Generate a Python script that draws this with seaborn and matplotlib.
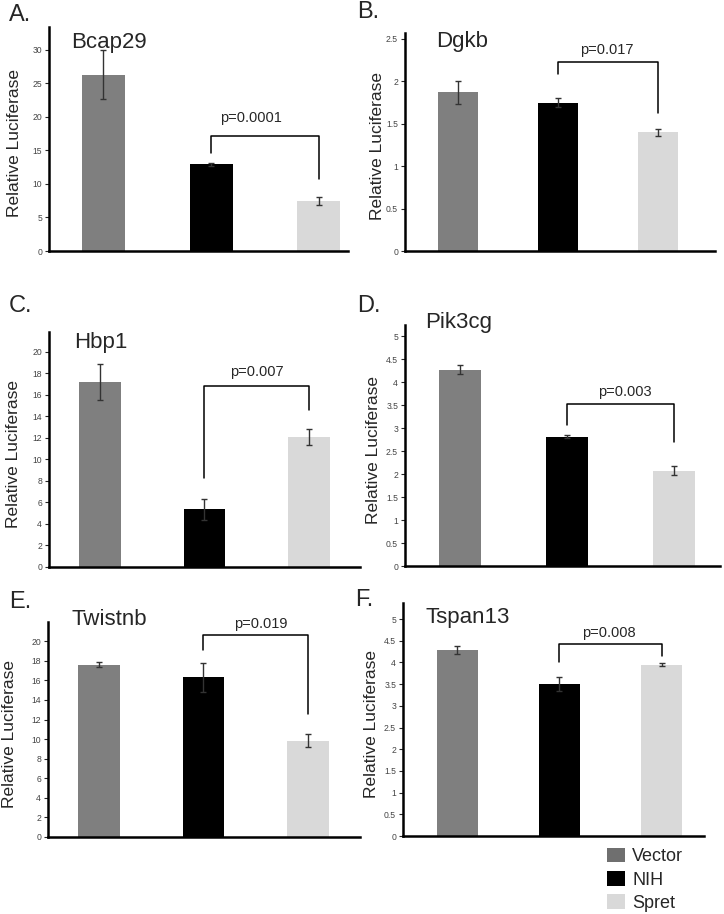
import matplotlib
matplotlib.use("Agg")
from matplotlib import pyplot as plt
from matplotlib.patches import Patch
import numpy as np
import pandas as pd
import seaborn as sns

W, H = 724, 914

groups = ['Vector', 'NIH', 'Spret']
colors = ['#7f7f7f', '#000000', '#d9d9d9']
genes = ['Bcap29', 'Dgkb', 'Hbp1', 'Pik3cg', 'Twistnb', 'Tspan13']
letters = ['A.', 'B.', 'C.', 'D.', 'E.', 'F.']

bcap29_mean = [26.3, 12.9, 7.5]
bcap29_err = [3.7, 0.2, 0.6]
dgkb_mean = [1.87, 1.75, 1.40]
dgkb_err = [0.14, 0.05, 0.04]
hbp1_mean = [17.2, 5.35, 12.1]
hbp1_err = [1.7, 0.95, 0.75]
pik3cg_mean = [4.28, 2.82, 2.08]
pik3cg_err = [0.09, 0.03, 0.09]
twistnb_mean = [17.6, 16.3, 9.85]
twistnb_err = [0.25, 1.5, 0.7]
tspan13_mean = [4.28, 3.5, 3.95]
tspan13_err = [0.09, 0.16, 0.03]

p_values = ['p=0.0001', 'p=0.017', 'p=0.007', 'p=0.003', 'p=0.019', 'p=0.008']
# bracket: left foot, top, right foot (data units)
brackets = [(14.6, 17.2, 10.8), (2.09, 2.23, 1.63), (8.26, 16.8, 14.6),
            (3.07, 3.52, 2.71), (19.07, 20.6, 12.56), (4.02, 4.42, 4.14)]
p_text_y = [19.8, 2.37, 18.1, 3.78, 21.8, 4.69]
p_text_x = [1.37, 1.49, 1.50, 1.54, 1.55, 1.48]

y_top = [33.4, 2.57, 21.85, 5.25, 21.96, 5.37]
y_step = [5, 0.5, 2, 0.5, 2, 0.5]
y_max_tick = [30, 2.5, 20, 5, 20, 5]

means = [bcap29_mean, dgkb_mean, hbp1_mean, pik3cg_mean, twistnb_mean, tspan13_mean]
errs = [bcap29_err, dgkb_err, hbp1_err, pik3cg_err, twistnb_err, tspan13_err]

# axes boxes in pixels: left, top, right, bottom
boxes = [(49, 27, 348, 251), (405, 33, 715, 251), (49, 332, 360, 567),
         (405, 325, 720, 566), (48, 622, 360, 837), (403, 603, 704, 836)]
xlims = [(-0.505, 2.27), (-0.53, 2.57), (-0.49, 2.49),
         (-0.514, 2.43), (-0.49, 2.5), (-0.527, 2.41)]
letter_pos = [(9, 21), (357, 18), (9, 312), (357, 312), (9, 608), (355, 606)]
title_pos = [(71, 48), (436, 47), (74, 348), (425, 328), (72, 625), (425, 623)]
ylabel_x = [15, 377, 14, 373, 10, 372]

sns.set_style('white')
plt.rcParams['font.family'] = ['Liberation Sans', 'DejaVu Sans']

fig = plt.figure(figsize=(W / 100, H / 100), dpi=100)


def px(x, y):
    return x / W, 1 - y / H


for i in range(6):
    l, t, r, b = boxes[i]
    ax = fig.add_axes([l / W, 1 - b / H, (r - l) / W, (b - t) / H])
    df = pd.DataFrame({'group': groups, 'value': means[i]})
    sns.barplot(data=df, x='group', y='value', hue='group', palette=colors,
                order=groups, hue_order=groups, width=0.4, legend=False,
                errorbar=None, ax=ax, saturation=1, linewidth=0)
    ax.errorbar(np.arange(3), means[i], yerr=errs[i], fmt='none',
                ecolor='#333333', elinewidth=1.0, capsize=2.5, capthick=1.0)
    lf, tp, rf = brackets[i]
    ax.plot([1, 1, 2, 2], [lf, tp, tp, rf], color='black', lw=1.1,
            clip_on=False)
    ax.text(p_text_x[i], p_text_y[i], p_values[i], ha='center', va='center',
            fontsize=10.5, clip_on=False)
    ax.set_xlim(*xlims[i])
    ax.set_ylim(0, y_top[i])
    ticks = np.arange(0, y_max_tick[i] + y_step[i] / 2, y_step[i])
    ax.set_yticks(ticks)
    ax.set_yticklabels(['%g' % v for v in ticks])
    ax.set_xticks([])
    ax.set_xlabel('')
    ax.set_ylabel('')
    for s in ['top', 'right']:
        ax.spines[s].set_visible(False)
    for s in ['left', 'bottom']:
        ax.spines[s].set_color('black')
        ax.spines[s].set_linewidth(1.8)
    ax.tick_params(axis='y', direction='out', length=3, width=0.8,
                   labelsize=6.2, labelcolor='#444444', left=True, pad=2)

    fig.text(*px(*letter_pos[i]), letters[i], fontsize=17, va='baseline')
    fig.text(*px(*title_pos[i]), genes[i], fontsize=16, va='baseline')
    fig.text(*px(ylabel_x[i], (t + b) / 2 + 4), 'Relative Luciferase',
             rotation=90, ha='center', va='center', fontsize=12.5)

handles = [Patch(facecolor=c, edgecolor='none', label=g)
           for c, g in zip(['#6f6f6f', '#000000', '#d9d9d9'], groups)]
fig.legend(handles=handles, loc='upper left', bbox_to_anchor=px(607, 848),
           frameon=False, fontsize=13, handlelength=1.0, handleheight=0.85,
           handletextpad=0.4, labelspacing=0.32, borderpad=0,
           borderaxespad=0)

fig.savefig('out.png', dpi=100)
